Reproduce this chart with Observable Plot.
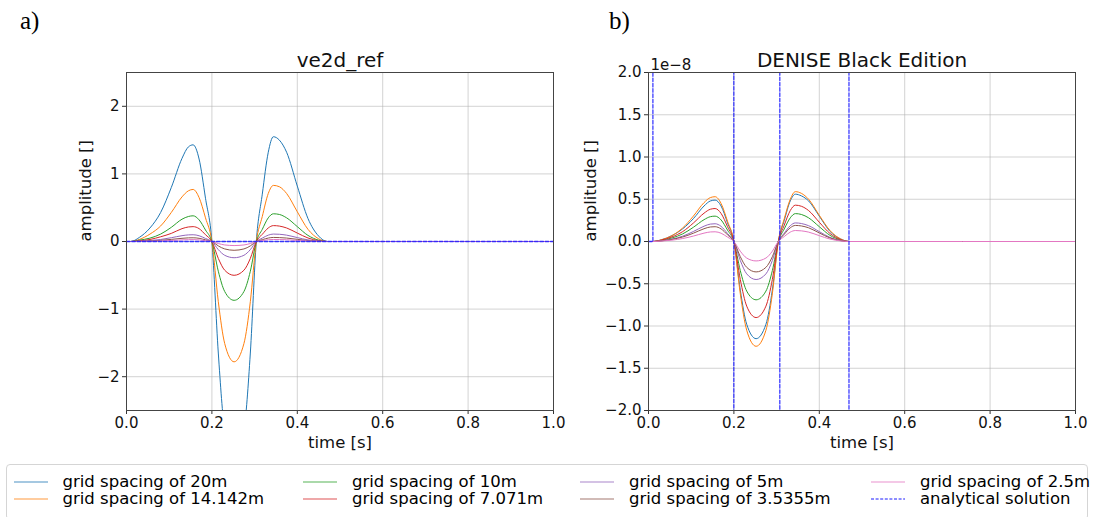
<!DOCTYPE html>
<html>
<head>
<meta charset="utf-8">
<script src="https://cdn.jsdelivr.net/npm/d3@7"></script>
<script src="https://cdn.jsdelivr.net/npm/@observablehq/plot@0.6"></script>
<style>
  html, body { margin: 0; padding: 0; background: #fff; }
  #page { position: relative; width: 1094px; height: 517px; overflow: hidden; font-family: "DejaVu Sans", sans-serif; }
  .panel { position: absolute; top: 0; }
  .panel svg { background: transparent !important; max-width: none !important; overflow: visible; }
  .plab { position: absolute; font-family: "Liberation Serif", serif; font-size: 25px; line-height: 1; }
  #legend { position: absolute; left: 6px; top: 464px; width: 1082px; height: 56px; border: 1px solid #d5d5d5; border-radius: 4px; box-sizing: border-box; }
  .lg { position: absolute; font-size: 16.5px; white-space: nowrap; }
  .lg svg { position: absolute; left: 0; top: 0; }
  .lg span { position: absolute; left: 49px; top: -10px; line-height: 20px; }
</style>
</head>
<body>
<div id="page">
  <div class="plab" style="left:20px; top:8px;">a)</div>
  <div class="plab" style="left:609px; top:8px;">b)</div>
  <div class="panel" id="left" style="left:0px;"></div>
  <div class="panel" id="right" style="left:560px;"></div>
  <div id="legend"></div>
</div>
<script>
// ---- data ----
const times = [0, 0.01, 0.03, 0.055, 0.08, 0.105, 0.13, 0.145, 0.156, 0.17, 0.185, 0.2, 0.215, 0.23, 0.252, 0.275, 0.29, 0.304, 0.318, 0.332, 0.344, 0.358, 0.375, 0.4, 0.425, 0.45, 0.47, 1.0];

// panel a) ve2d_ref amplitudes
const ref20 = [0,0,0.06,0.2,0.43,0.8,1.23,1.4,1.43,1.22,0.64,0, -1.65,-2.81,-3.3,-2.81,-1.65,0, 0.7,1.32,1.55,1.5,1.32,0.82,0.34,0.08,0,0];
const ref14 = [0,0,0.03,0.11,0.23,0.43,0.66,0.75,0.77,0.65,0.35,0, -0.89,-1.51,-1.78,-1.51,-0.89,0, 0.37,0.71,0.83,0.81,0.71,0.44,0.18,0.04,0,0];
const ref10 = [0,0,0.02,0.05,0.11,0.21,0.33,0.37,0.38,0.32,0.17,0, -0.44,-0.74,-0.87,-0.74,-0.44,0, 0.18,0.35,0.41,0.4,0.35,0.22,0.09,0.02,0,0];
const ref7  = [0,0,0.01,0.03,0.07,0.12,0.19,0.215,0.22,0.19,0.1,0, -0.25,-0.425,-0.5,-0.425,-0.25,0, 0.106,0.2,0.235,0.228,0.2,0.125,0.052,0.012,0,0];
const ref5  = [0,0,0.004,0.014,0.03,0.056,0.086,0.098,0.1,0.085,0.045,0, -0.12,-0.204,-0.24,-0.204,-0.12,0, 0.05,0.094,0.11,0.107,0.094,0.058,0.024,0.006,0,0];
const ref3  = [0,0,0.002,0.008,0.017,0.031,0.047,0.054,0.055,0.047,0.025,0, -0.065,-0.11,-0.13,-0.11,-0.065,0, 0.027,0.051,0.06,0.058,0.051,0.032,0.013,0.003,0,0];
const ref2  = [0,0,0.001,0.004,0.008,0.016,0.024,0.027,0.028,0.024,0.013,0, -0.03,-0.051,-0.06,-0.051,-0.03,0, 0.014,0.026,0.03,0.029,0.026,0.016,0.007,0.002,0,0];

// panel b) DENISE Black Edition amplitudes (units of 1e-8)
const den20 = [0,0,0.02,0.07,0.15,0.27,0.42,0.48,0.49,0.42,0.22,0, -0.575,-0.98,-1.15,-0.98,-0.575,0, 0.25,0.48,0.56,0.54,0.48,0.3,0.12,0.03,0,0];
const den14 = [0,0,0.02,0.07,0.16,0.3,0.46,0.52,0.53,0.45,0.24,0, -0.62,-1.05,-1.24,-1.05,-0.62,0, 0.27,0.5,0.59,0.57,0.5,0.31,0.13,0.03,0,0];
const den10 = [0,0,0.012,0.042,0.09,0.168,0.258,0.294,0.3,0.255,0.135,0, -0.345,-0.587,-0.69,-0.587,-0.345,0, 0.149,0.28,0.33,0.32,0.28,0.175,0.073,0.017,0,0];
const den7  = [0,0,0.016,0.055,0.117,0.218,0.335,0.382,0.39,0.332,0.176,0, -0.45,-0.765,-0.9,-0.765,-0.45,0, 0.194,0.366,0.43,0.417,0.366,0.228,0.095,0.022,0,0];
const den5  = [0,0,0.008,0.029,0.063,0.118,0.181,0.206,0.21,0.179,0.095,0, -0.225,-0.383,-0.45,-0.383,-0.225,0, 0.099,0.187,0.22,0.213,0.187,0.117,0.048,0.011,0,0];
const den3  = [0,0,0.007,0.025,0.053,0.098,0.151,0.172,0.175,0.149,0.079,0, -0.18,-0.306,-0.36,-0.306,-0.18,0, 0.086,0.162,0.19,0.184,0.162,0.101,0.042,0.01,0,0];
const den2  = [0,0,0.005,0.016,0.035,0.064,0.099,0.113,0.115,0.098,0.052,0, -0.115,-0.196,-0.23,-0.196,-0.115,0, 0.059,0.111,0.13,0.126,0.111,0.069,0.029,0.007,0,0];

// analytical solution (raw amplitude)
const anaTimes  = [0, 0.0103, 0.011, 0.1, 0.1995, 0.1998, 0.2005, 0.25, 0.307, 0.3075, 0.308, 0.4, 0.469, 0.4695, 0.47, 1.0];
const anaValues = [0, 0, 2e-6, 5e-6, 2e-6, 0, -2e-6, -5e-6, -2e-6, 0, 2e-6, 5e-6, 2e-6, 0, -2e-6, -1e-6];

const seriesLabels = ["grid spacing of 20m", "grid spacing of 14.142m", "grid spacing of 10m", "grid spacing of 7.071m", "grid spacing of 5m", "grid spacing of 3.5355m", "grid spacing of 2.5m"];
const seriesColors = ["#1f77b4", "#ff7f0e", "#2ca02c", "#d62728", "#9467bd", "#8c564b", "#e377c2"];
const analyticalLabel = "analytical solution";
const analyticalColor = "#1a1aff";
const xTicks = [0, 0.2, 0.4, 0.6, 0.8, 1.0];
const yTicksRef = [-2, -1, 0, 1, 2];
const yTicksDen = [-2, -1.5, -1, -0.5, 0, 0.5, 1, 1.5, 2];

const refSeries = [ref20, ref14, ref10, ref7, ref5, ref3, ref2];
const denSeries = [den20, den14, den10, den7, den5, den3, den2];

const fmt1 = d3.format(".1f");
const fmtInt = d => d < 0 ? "\u2212" + Math.abs(d) : String(d);

function panel({series, scale, yDomain, yTicks, yFmt, title, width, marginLeft, marginRight, ylabDx, offsetText}) {
  const marks = [
    Plot.gridX(xTicks, {stroke: "#b0b0b0", strokeOpacity: 0.7, strokeWidth: 0.8}),
    Plot.gridY(yTicks, {stroke: "#b0b0b0", strokeOpacity: 0.7, strokeWidth: 0.8}),
    Plot.axisX(xTicks, {tickSize: 4, tickPadding: 3, tickFormat: fmt1, fontSize: 15, label: null, stroke: "#333"}),
    Plot.axisY(yTicks, {tickSize: 4, tickPadding: 3, tickFormat: yFmt, fontSize: 15, label: null, stroke: "#333"}),
  ];
  series.forEach((vals, i) => {
    const rows = times.map((t, j) => ({t, v: vals[j]}));
    marks.push(Plot.line(rows, {x: "t", y: "v", stroke: seriesColors[i], strokeWidth: 1, strokeOpacity: 1, curve: "monotone-x", clip: true}));
  });
  const anaRows = anaTimes.map((t, j) => ({t, v: anaValues[j] / scale}));
  marks.push(Plot.line(anaRows, {x: "t", y: "v", stroke: analyticalColor, strokeWidth: 1.3, strokeOpacity: 0.85, strokeDasharray: "3.5,1.8", clip: true}));
  marks.push(Plot.frame({stroke: "#444", strokeWidth: 1}));
  marks.push(Plot.text([title], {frameAnchor: "top", dy: -12, fontSize: 20, lineAnchor: "middle", fill: "#111"}));
  marks.push(Plot.text(["time [s]"], {frameAnchor: "bottom", dy: 32, fontSize: 16.5, lineAnchor: "middle", fill: "#111"}));
  marks.push(Plot.text(["amplitude []"], {frameAnchor: "left", dx: ylabDx, rotate: -90, fontSize: 16.5, lineAnchor: "middle", fill: "#111"}));
  if (offsetText) marks.push(Plot.text([offsetText], {frameAnchor: "top-left", dx: 2, dy: -7, textAnchor: "start", fontSize: 15, lineAnchor: "middle", fill: "#111"}));
  return Plot.plot({
    width, height: 465,
    marginLeft, marginRight, marginTop: 72, marginBottom: 55,
    style: {fontFamily: "DejaVu Sans", fontSize: "15px", color: "#111", background: "transparent", overflow: "visible"},
    x: {domain: [0, 1]},
    y: {domain: yDomain},
    marks
  });
}

document.getElementById("left").appendChild(panel({
  series: refSeries, scale: 1, yDomain: [-2.5, 2.5], yTicks: yTicksRef, yFmt: fmtInt,
  title: "ve2d_ref", width: 573, marginLeft: 126, marginRight: 20, ylabDx: -41
}));
document.getElementById("right").appendChild(panel({
  series: denSeries, scale: 1e-8, yDomain: [-2, 2], yTicks: yTicksDen, yFmt: fmt1,
  title: "DENISE Black Edition", width: 530, marginLeft: 88, marginRight: 15, ylabDx: -58, offsetText: "1e\u22128"
}));

// legend (column-major, 4 columns x 2 rows)
const legendItems = seriesLabels.map((l, i) => ({label: l, color: seriesColors[i], dash: null}));
legendItems.push({label: analyticalLabel, color: analyticalColor, dash: "3,1.6"});
const colX = [6.5, 296, 573, 864];
const rowY = [17, 34];
const lg = document.getElementById("legend");
legendItems.forEach((it, i) => {
  const c = Math.floor(i / 2), r = i % 2;
  const d = document.createElement("div");
  d.className = "lg";
  d.style.left = colX[c] + "px";
  d.style.top = rowY[r] + "px";
  d.innerHTML = `<svg width="36" height="4" style="top:-2px"><line x1="0" x2="34" y1="2" y2="2" stroke="${it.color}" stroke-width="1" ${it.dash ? `stroke-dasharray="${it.dash}"` : 'stroke-opacity="0.8"'}/></svg><span>${it.label}</span>`;
  lg.appendChild(d);
});
</script>
</body>
</html>
